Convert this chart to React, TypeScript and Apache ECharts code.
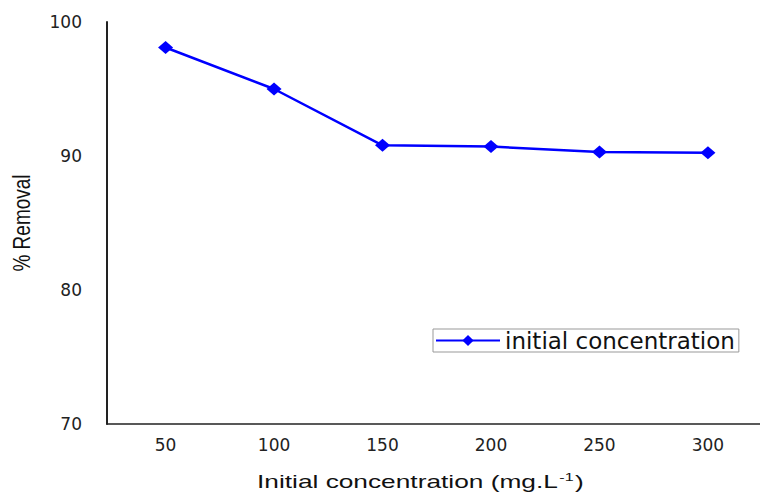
import React, { useEffect, useRef } from "react";
import * as echarts from "echarts";

const concentrations = [50, 100, 150, 200, 250, 300];
const removal = [98.1, 95.0, 90.8, 90.7, 90.3, 90.25];
const yTicks = [70, 80, 90, 100];
const seriesName = "initial concentration";

const FONT = "Liberation Sans, Arial, sans-serif";
const WIDE = "DejaVu Sans, Liberation Sans, sans-serif";

export default function App() {
  const ref = useRef<HTMLDivElement>(null);
  useEffect(() => {
    if (!ref.current) return;
    const chart = echarts.init(ref.current, null, { renderer: "svg" });
    chart.setOption({
      animation: false,
      backgroundColor: "#ffffff",
      graphic: [
        {
          type: "text",
          x: 257,
          y: 482,
          scaleX: 1.46,
          style: {
            text: "Initial concentration (mg.L{sup|-1}{base|)}",
            fontSize: 18,
            fontFamily: FONT,
            fill: "#111",
            align: "left",
            verticalAlign: "middle",
            rich: {
              sup: { fontSize: 11, fill: "#111", fontFamily: FONT, padding: [0, 1, 9, 1] },
              base: { fontSize: 18, fill: "#111", fontFamily: FONT },
            },
          },
        },
        {
          type: "text",
          x: 22,
          y: 223,
          rotation: Math.PI / 2,
          scaleY: 1.3,
          scaleX: 1,
          style: {
            text: "% Removal",
            fontSize: 19,
            fontFamily: FONT,
            fill: "#111",
            align: "center",
            verticalAlign: "middle",
          },
        },
      ],
      legend: {
        data: [seriesName],
        left: 433,
        top: 329,
        padding: [0, 4, 0, 2],
        borderColor: "#999",
        borderWidth: 1,
        itemWidth: 64,
        itemHeight: 14,
        itemGap: 4,
        textStyle: { fontSize: 23, color: "#111", fontFamily: WIDE },
      },
      grid: { left: 107, top: 22, right: 0, bottom: 71, containLabel: false },
      xAxis: {
        type: "value",
        min: 23,
        max: 324,
        splitLine: { show: false },
        axisTick: { show: false },
        axisLine: { show: true, lineStyle: { color: "#222", width: 1.5 } },
        axisLabel: {
          customValues: concentrations,
          fontSize: 17,
          color: "#222",
          fontFamily: WIDE,
          margin: 12,
        },
      },
      yAxis: {
        type: "value",
        min: 70,
        max: 100,
        interval: 10,
        splitLine: { show: false },
        axisTick: { show: false },
        axisLine: { show: true, lineStyle: { color: "#222", width: 2 } },
        axisLabel: {
          customValues: yTicks,
          fontSize: 17,
          color: "#222",
          fontFamily: WIDE,
          margin: 25,
        },
      },
      series: [
        {
          name: seriesName,
          type: "line",
          data: concentrations.map((c, i) => [c, removal[i]]),
          symbol: "diamond",
          symbolSize: [15, 13],
          itemStyle: { color: "#0000ff" },
          lineStyle: { color: "#0000ff", width: 2.5 },
        },
      ],
    });
    return () => chart.dispose();
  }, []);
  return (
    <div
      ref={ref}
      style={{ position: "fixed", left: 0, top: 0, width: 760, height: 495 }}
    />
  );
}
